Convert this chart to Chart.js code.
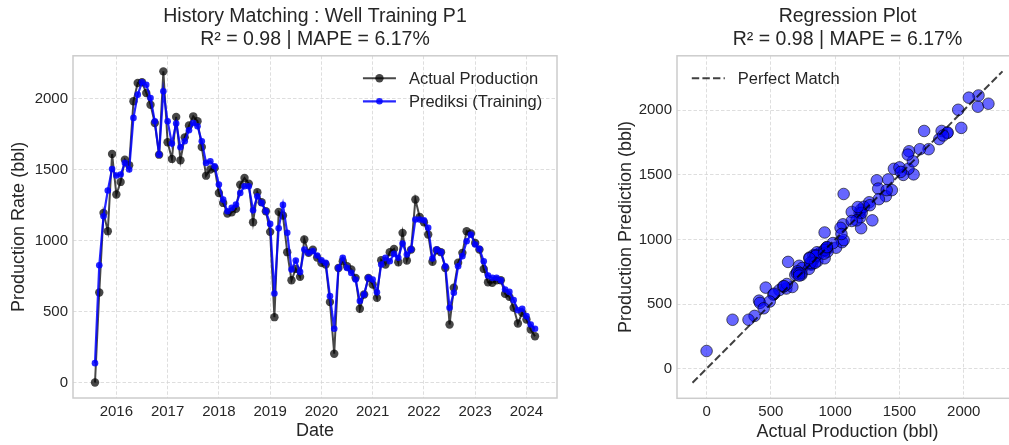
<!DOCTYPE html>
<html>
<head>
<meta charset="utf-8">
<script src="https://cdn.jsdelivr.net/npm/chart.js@4.4.0/dist/chart.umd.min.js"></script>
<style>
    html, body { margin: 0; padding: 0; background: #fff; }
    #fig { position: relative; width: 1009px; height: 445px; overflow: hidden; background: #fff; }
    canvas { position: absolute; top: 0; }
    #historyChart { left: 0; }
    #regressionChart { left: 590px; }
</style>
</head>
<body>
<div id="fig">
    <canvas id="historyChart" width="600" height="445"></canvas>
    <canvas id="regressionChart" width="440" height="445"></canvas>
</div>
<script>
// Monthly series, first sample is Aug 2015
const firstYear = 2015;
const firstMonth = 8;

const actualProduction = [
    0, 634, 1195, 1066, 1610,
    1324, 1413, 1570, 1530, 1981, 2110, 2115, 2040, 1957, 1828, 1605, 2192,
    1692, 1575, 1871, 1565, 1727, 1810, 1875, 1840, 1659, 1457, 1500, 1510,
    1335, 1265, 1190, 1199, 1223, 1394, 1441, 1401, 1129, 1340, 1270, 1206,
    1061, 460, 1202, 1176, 918, 720, 800, 744, 1007, 913, 936, 880,
    843, 831, 566, 202, 807, 854, 819, 796, 737, 519, 620, 737,
    690, 596, 861, 831, 918, 941, 847, 1054, 859, 936, 1289, 1166,
    1129, 1042, 850, 932, 918, 807, 408, 667, 843, 913, 1066, 1049,
    983, 936, 800, 706, 702, 720, 720, 624, 603, 526, 415, 491,
    444, 373, 326
];

const predictedTraining = [
    136, 826, 1171, 1352, 1504,
    1458, 1465, 1547, 1500, 1864, 2028, 2115, 2098, 2004, 1840, 1605, 2051,
    1840, 1683, 1824, 1657, 1699, 1777, 1828, 1805, 1699, 1547, 1558, 1523,
    1394, 1288, 1206, 1230, 1253, 1335, 1382, 1382, 1213, 1312, 1265, 1206,
    1117, 627, 1087, 1251, 1054, 796, 859, 779, 936, 913, 925, 894,
    861, 843, 608, 378, 807, 878, 807, 772, 725, 573, 620, 737,
    725, 636, 831, 878, 854, 906, 878, 979, 901, 936, 1148, 1148,
    1143, 1090, 873, 936, 918, 819, 526, 632, 819, 890, 995, 1042,
    972, 941, 854, 753, 737, 737, 720, 655, 638, 580, 509, 519,
    467, 408, 378
];

const yearTicks = [2016, 2017, 2018, 2019, 2020, 2021, 2022, 2023, 2024];
const rateTicks = [0, 500, 1000, 1500, 2000];

const historyTitle = ['History Matching : Well Training P1', 'R\u00b2 = 0.98 | MAPE = 6.17%'];
const regressionTitle = ['Regression Plot', 'R\u00b2 = 0.98 | MAPE = 6.17%'];

const textColor = '#262626';
const gridColor = '#d6d6d6';
const frameColor = '#cccccc';

Chart.defaults.font.family = "'Liberation Sans', Arial, sans-serif";
Chart.defaults.color = textColor;

// months counted from Jan of the first tick year
function monthPos(i) {
    return (firstYear - yearTicks[0]) * 12 + (firstMonth - 1) + i;
}

// matplotlib style 5% auto margin
function padRange(lo, hi) {
    const m = (hi - lo) * 0.05;
    return [lo - m, hi + m];
}

// spines on all four sides
const framePlugin = {
    id: 'frame',
    afterDatasetsDraw(chart) {
        const { ctx, chartArea } = chart;
        ctx.save();
        ctx.strokeStyle = frameColor;
        ctx.lineWidth = 1.5;
        ctx.strokeRect(chartArea.left, chartArea.top, chartArea.right - chartArea.left, chartArea.bottom - chartArea.top);
        ctx.restore();
    }
};

// legend drawn inside the plot, like matplotlib
const inlineLegend = {
    id: 'inlineLegend',
    afterDraw(chart, args, opts) {
        const { ctx, chartArea } = chart;
        const items = chart.data.datasets.filter(d => d.inLegend);
        ctx.save();
        ctx.font = opts.fontSize + 'px ' + Chart.defaults.font.family;
        const textW = Math.max(...items.map(d => ctx.measureText(d.label).width));
        const handle = 33, gap = 13, pad = 14.8;
        const x0 = opts.side === 'right'
            ? chartArea.right - pad - textW - gap - handle
            : chartArea.left + pad;
        items.forEach((d, i) => {
            const y = chartArea.top + 22.5 + i * 23;
            ctx.strokeStyle = d.borderColor;
            ctx.lineWidth = d.borderWidth;
            ctx.setLineDash(d.borderDash || []);
            ctx.beginPath();
            ctx.moveTo(x0, y);
            ctx.lineTo(x0 + handle, y);
            ctx.stroke();
            ctx.setLineDash([]);
            if (d.pointRadius) {
                ctx.fillStyle = d.pointBackgroundColor;
                ctx.beginPath();
                ctx.arc(x0 + handle / 2, y, d.pointRadius, 0, Math.PI * 2);
                ctx.fill();
            }
            ctx.fillStyle = textColor;
            ctx.textBaseline = 'middle';
            ctx.textAlign = 'left';
            ctx.fillText(d.label, x0 + handle + gap, y + 1);
        });
        ctx.restore();
    }
};

function axisOptions(range, ticks, label, fit, titlePad, tickFormat) {
    return {
        type: 'linear',
        min: range[0],
        max: range[1],
        afterFit: fit,
        afterBuildTicks: s => { s.ticks = ticks.map(v => ({ value: v })); },
        ticks: { padding: 5, font: { size: 15 }, color: textColor, maxRotation: 0, autoSkip: false, callback: tickFormat },
        grid: { color: gridColor, lineWidth: 0.8, drawTicks: false },
        border: { display: false, dash: [3.5, 2] },
        title: { display: true, text: label, font: { size: 18 }, color: textColor, padding: titlePad }
    };
}

function titleOptions(lines) {
    return {
        display: true,
        text: lines,
        fullSize: false,
        color: textColor,
        font: { size: 19.5, weight: 'normal', lineHeight: 1.2 },
        padding: { top: 5, bottom: 4 }
    };
}

// ---- History matching (time series) ----
const histX = padRange(monthPos(0), monthPos(actualProduction.length - 1));
const histY = padRange(
    Math.min(...actualProduction, ...predictedTraining),
    Math.max(...actualProduction, ...predictedTraining)
);

new Chart(document.getElementById('historyChart'), {
    type: 'line',
    data: {
        datasets: [{
            label: 'Actual Production',
            inLegend: true,
            data: actualProduction.map((v, i) => ({ x: monthPos(i), y: v })),
            borderColor: 'rgba(0,0,0,0.72)',
            backgroundColor: 'rgba(0,0,0,0.72)',
            pointBackgroundColor: 'rgba(0,0,0,0.72)',
            pointBorderWidth: 0,
            pointRadius: 4.2,
            borderWidth: 2,
            tension: 0,
            order: 1
        }, {
            label: 'Prediksi (Training)',
            inLegend: true,
            data: predictedTraining.map((v, i) => ({ x: monthPos(i), y: v })),
            borderColor: 'rgba(0,0,255,0.85)',
            backgroundColor: 'rgba(0,0,255,0.85)',
            pointBackgroundColor: 'rgba(0,0,255,0.85)',
            pointBorderWidth: 0,
            pointRadius: 3.3,
            borderWidth: 2.2,
            tension: 0,
            order: 0
        }]
    },
    options: {
        responsive: false,
        animation: false,
        devicePixelRatio: 1,
        events: [],
        layout: { padding: { left: 0, right: 43, top: 0, bottom: 0 } },
        scales: {
            x: axisOptions(histX, yearTicks.map(y => (y - yearTicks[0]) * 12), 'Date',
                s => { s.height = 47; }, { top: 0, bottom: 3 },
                v => String(yearTicks[0] + v / 12)),
            y: axisOptions(histY, rateTicks, 'Production Rate (bbl)',
                s => { s.width = 73; }, { top: 8, bottom: 0 })
        },
        plugins: {
            legend: { display: false },
            tooltip: { enabled: false },
            title: titleOptions(historyTitle),
            inlineLegend: { side: 'right', fontSize: 16.5 }
        }
    },
    plugins: [framePlugin, inlineLegend]
});

// ---- Regression (actual vs predicted) ----
const xLim = padRange(Math.min(...actualProduction), Math.max(...actualProduction));
const yLim = padRange(Math.min(...predictedTraining), Math.max(...predictedTraining));
const perfectLine = [Math.min(xLim[0], yLim[0]), Math.max(xLim[1], yLim[1])];
const regRange = padRange(perfectLine[0], perfectLine[1]);

new Chart(document.getElementById('regressionChart'), {
    type: 'scatter',
    data: {
        datasets: [{
            label: 'Perfect Match',
            inLegend: true,
            data: perfectLine.map(v => ({ x: v, y: v })),
            showLine: true,
            borderColor: 'rgba(0,0,0,0.75)',
            borderDash: [7.4, 3.2],
            borderWidth: 2,
            pointRadius: 0,
            order: 0
        }, {
            label: 'Predictions',
            data: actualProduction.map((v, i) => ({ x: v, y: predictedTraining[i] })),
            backgroundColor: 'rgba(0,0,255,0.6)',
            borderColor: 'rgba(0,0,0,0.6)',
            borderWidth: 1,
            pointRadius: 5.8,
            order: 1
        }]
    },
    options: {
        responsive: false,
        animation: false,
        devicePixelRatio: 1,
        events: [],
        layout: { padding: { left: 0, right: 12, top: 0, bottom: 0 } },
        scales: {
            x: axisOptions(regRange, rateTicks, 'Actual Production (bbl)',
                s => { s.height = 46.7; }, { top: 0, bottom: 2.5 }),
            y: axisOptions(regRange, rateTicks, 'Production Prediction (bbl)',
                s => { s.width = 87; }, { top: 25, bottom: 0 })
        },
        plugins: {
            legend: { display: false },
            tooltip: { enabled: false },
            title: titleOptions(regressionTitle),
            inlineLegend: { side: 'left', fontSize: 16.5 }
        }
    },
    plugins: [framePlugin, inlineLegend]
});
</script>
</body>
</html>
